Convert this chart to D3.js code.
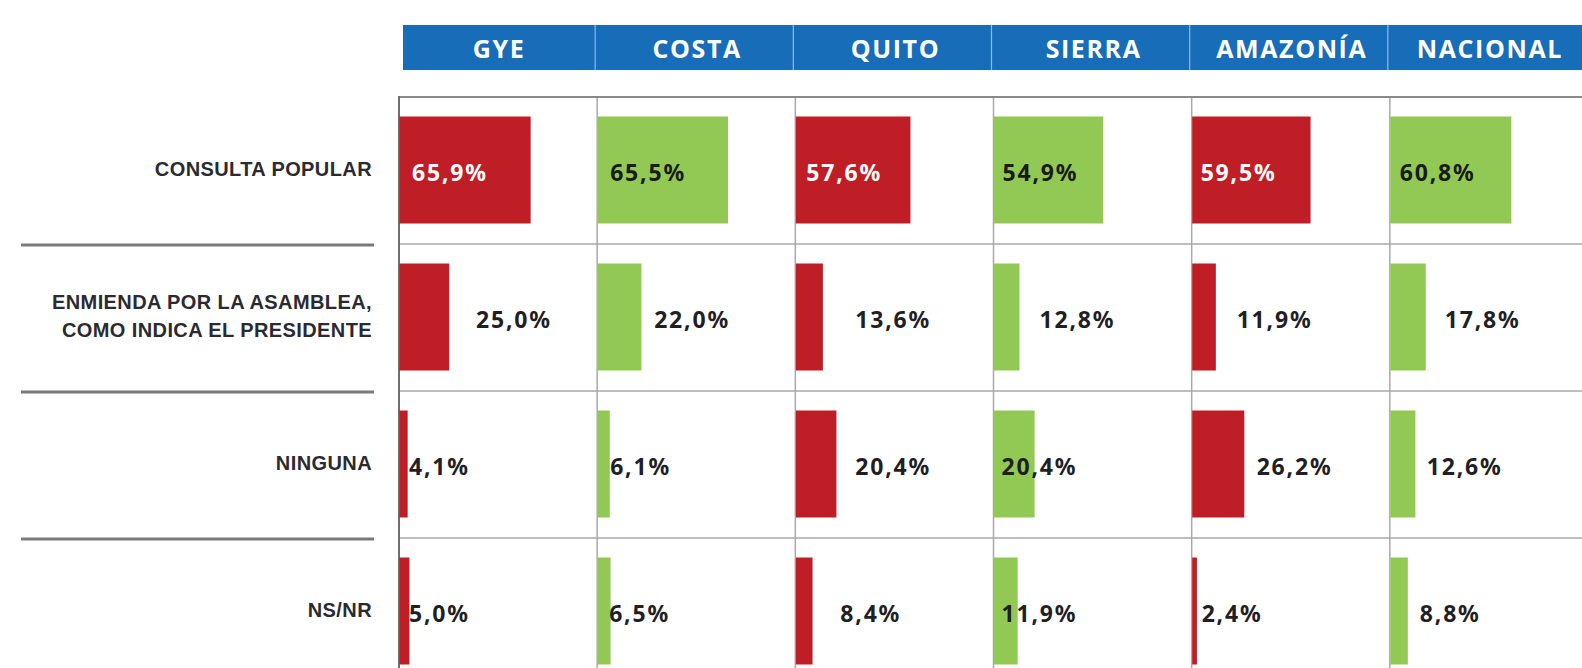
<!DOCTYPE html>
<html>
<head>
<meta charset="utf-8">
<script src="https://cdn.jsdelivr.net/npm/d3@7"></script>
<style>
  body { margin: 0; background: #fff; }
  svg { display: block; }
</style>
</head>
<body>
<svg id="chart" width="1582" height="668"></svg>
<script>
// regions across the top, answers down the side
var regions = ["GYE", "COSTA", "QUITO", "SIERRA", "AMAZONÍA", "NACIONAL"]
var categories = ["CONSULTA POPULAR", "ENMIENDA POR LA ASAMBLEA, COMO INDICA EL PRESIDENTE", "NINGUNA", "NS/NR"]
var categoryLines = [["CONSULTA POPULAR"], ["ENMIENDA  POR LA ASAMBLEA,", "COMO INDICA EL PRESIDENTE"], ["NINGUNA"], ["NS/NR"]]

// one list per answer, in region order (%)
var consultaPopular = [65.9, 65.5, 57.6, 54.9, 59.5, 60.8]
var enmienda = [25.0, 22.0, 13.6, 12.8, 11.9, 17.8]
var ninguna = [4.1, 6.1, 20.4, 20.4, 26.2, 12.6]
var nsnr = [5.0, 6.5, 8.4, 11.9, 2.4, 8.8]

var seriesByCategory = [consultaPopular, enmienda, ninguna, nsnr]

// hand placed label nudges in the original, px from the column start
var labelDx = [
  [13, 13, 11, 9, 9, 10],
  [77, 57, 60, 46, 45, 55],
  [10, 13, 60, 8, 65, 37],
  [10, 12, 45, 8, 10, 30]
]

var red = "#bf1e26"
var green = "#92c955"
var blue = "#176db8"

var svg = d3.select("#chart")

// scales
var colX = d3.scaleBand().domain(regions).range([399, 1588])
var rowY = d3.scaleBand().domain(categories).range([97, 97 + 4 * 147])
var barW = d3.scaleLinear().domain([0, 100]).range([0, 199])
var colorScale = d3.scaleOrdinal().domain(regions).range([red, green, red, green, red, green])

var es = d3.formatLocale({ decimal: ",", thousands: ".", grouping: [3], currency: ["", "%"] })
var fmt = es.format(".1f")

var barTop = 19.5
var barH = 107

// header bar
svg.append("rect")
  .attr("x", 403)
  .attr("y", 25)
  .attr("width", 1582 - 403)
  .attr("height", 45)
  .style("fill", blue)

svg.selectAll(".hdiv")
  .data(regions.slice(1))
  .join("line")
  .attr("class", "hdiv")
  .attr("x1", function(d) { return colX(d) - 2 })
  .attr("x2", function(d) { return colX(d) - 2 })
  .attr("y1", 25)
  .attr("y2", 70)
  .style("stroke", "#8fbde6")
  .style("stroke-width", 1.2)

svg.selectAll(".htext")
  .data(regions)
  .join("text")
  .attr("class", "htext")
  .attr("x", function(d) { return colX(d) + colX.bandwidth() / 2 + 1 })
  .attr("y", 48)
  .attr("text-anchor", "middle")
  .attr("dominant-baseline", "central")
  .style("font-family", "'Open Sans', sans-serif")
  .style("font-weight", 700)
  .style("font-size", "25px")
  .style("letter-spacing", "1.6px")
  .style("fill", "#fff")
  .text(function(d) { return d })

// grid: row lines in the plot area
svg.selectAll(".hgrid")
  .data(categories.slice(1))
  .join("line")
  .attr("class", "hgrid")
  .attr("x1", 399)
  .attr("x2", 1582)
  .attr("y1", function(d) { return rowY(d) })
  .attr("y2", function(d) { return rowY(d) })
  .style("stroke", "#a9a9a9")
  .style("stroke-width", 1.5)

// column lines
svg.selectAll(".vgrid")
  .data(regions.slice(1))
  .join("line")
  .attr("class", "vgrid")
  .attr("x1", function(d) { return colX(d) })
  .attr("x2", function(d) { return colX(d) })
  .attr("y1", 97)
  .attr("y2", 668)
  .style("stroke", "#a9a9a9")
  .style("stroke-width", 1.5)

// top and left frame
svg.append("line")
  .attr("x1", 398).attr("x2", 1582)
  .attr("y1", 97).attr("y2", 97)
  .style("stroke", "#8a8a8a")
  .style("stroke-width", 2)

svg.append("line")
  .attr("x1", 399).attr("x2", 399)
  .attr("y1", 96).attr("y2", 668)
  .style("stroke", "#6e6e6e")
  .style("stroke-width", 2)

// separators under the row names
svg.selectAll(".sep")
  .data(categories.slice(1))
  .join("line")
  .attr("class", "sep")
  .attr("x1", 21)
  .attr("x2", 374)
  .attr("y1", function(d) { return rowY(d) + 1 })
  .attr("y2", function(d) { return rowY(d) + 1 })
  .style("stroke", "#7a7a7a")
  .style("stroke-width", 3)

// row names
var rowLabel = svg.selectAll(".rowlabel")
  .data(categories)
  .join("text")
  .attr("class", "rowlabel")
  .attr("text-anchor", "end")
  .style("font-family", "'Liberation Sans', Arial, sans-serif")
  .style("font-weight", 700)
  .style("font-size", "20px")
  .style("letter-spacing", "0.4px")
  .style("fill", "#2a2a30")

rowLabel.each(function(d, i) {
  var lines = categoryLines[i]
  var cy = rowY(d) + barTop + barH / 2 - 1
  d3.select(this).selectAll("tspan")
    .data(lines)
    .join("tspan")
    .attr("x", 372)
    .attr("y", function(l, j) { return cy + (j - (lines.length - 1) / 2) * 28 })
    .attr("dominant-baseline", "central")
    .text(function(l) { return l })
})

// bars and value labels
var cells = []
seriesByCategory.forEach(function(values, r) {
  values.forEach(function(v, c) {
    cells.push({ cat: categories[r], region: regions[c], value: v, r: r, c: c })
  })
})

svg.selectAll(".bar")
  .data(cells)
  .join("rect")
  .attr("class", "bar")
  .attr("x", function(d) { return colX(d.region) + 0.5 })
  .attr("y", function(d) { return rowY(d.cat) + barTop })
  .attr("width", function(d) { return barW(d.value) })
  .attr("height", barH)
  .style("fill", function(d) { return colorScale(d.region) })

svg.selectAll(".val")
  .data(cells)
  .join("text")
  .attr("class", "val")
  .attr("x", function(d) { return colX(d.region) + labelDx[d.r][d.c] })
  .attr("y", function(d) { return rowY(d.cat) + barTop + barH / 2 + 2 })
  .attr("dominant-baseline", "central")
  .style("font-family", "'Noto Sans', sans-serif")
  .style("font-weight", 700)
  .style("font-size", "23px")
  .style("letter-spacing", "1.8px")
  .style("fill", function(d) {
    if (d.r == 0) return colorScale(d.region) == red ? "#fff" : "#1a1a1a"
    return "#1f1f24"
  })
  .text(function(d) { return fmt(d.value) + "%" })
</script>
</body>
</html>
